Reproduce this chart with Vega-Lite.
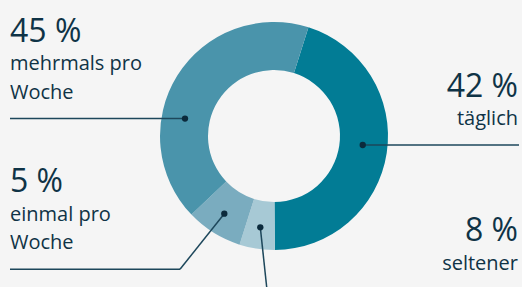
{
  "$schema": "https://vega.github.io/schema/vega-lite/v6.json",
  "width": 522,
  "height": 287,
  "padding": 0,
  "autosize": {"type": "none"},
  "background": "#f5f5f5",
  "config": {"view": {"stroke": null}},
  "data": {
    "values": [
      {"kategorie": "täglich", "bogen": 45, "prozent": "42 %", "text": "täglich", "nr": 1},
      {"kategorie": "seltener", "bogen": 5, "prozent": "8 %", "text": "seltener", "nr": 2},
      {"kategorie": "einmal pro Woche", "bogen": 8, "prozent": "5 %", "text": "einmal pro\nWoche", "nr": 3},
      {"kategorie": "mehrmals pro Woche", "bogen": 42, "prozent": "45 %", "text": "mehrmals pro\nWoche", "nr": 4}
    ]
  },
  "layer": [
    {
      "mark": {"type": "arc", "innerRadius": 66, "outerRadius": 114},
      "encoding": {
        "x": {"datum": 0, "type": "quantitative", "scale": {"domain": [-240.35, 217.54], "nice": false, "zero": false}, "axis": null},
        "y": {"datum": 0, "type": "quantitative", "scale": {"domain": [-132.46, 119.3], "nice": false, "zero": false}, "axis": null},
        "theta": {"field": "bogen", "type": "quantitative", "stack": true, "scale": {"range": [0.3072, 6.5904]}},
        "order": {"field": "nr", "type": "quantitative"},
        "color": {
          "field": "kategorie", "type": "nominal", "legend": null,
          "scale": {
            "domain": ["täglich", "seltener", "einmal pro Woche", "mehrmals pro Woche"],
            "range": ["#027c95", "#a7c9d5", "#7aacbf", "#4a94ab"]
          }
        }
      }
    },
    {
      "transform": [{"filter": "datum.kategorie === 'mehrmals pro Woche'"}],
      "layer": [
        {"mark": {"type": "rule", "color": "#1d475b", "strokeWidth": 1.5},
         "encoding": {"x": {"datum": -231.58, "type": "quantitative", "axis": null}, "x2": {"datum": -78.07}, "y": {"datum": 15.3, "type": "quantitative", "axis": null}}},
        {"mark": {"type": "point", "filled": true, "opacity": 1, "size": 40, "color": "#0b2a3c"},
         "encoding": {"x": {"datum": -78.07, "type": "quantitative", "axis": null}, "y": {"datum": 15.3, "type": "quantitative", "axis": null}}},
        {"mark": {"type": "text", "align": "left", "baseline": "alphabetic", "font": "Open Sans", "fontSize": 32, "color": "#0f3346"},
         "encoding": {"x": {"datum": -231.58, "type": "quantitative", "axis": null}, "y": {"datum": 82.46, "type": "quantitative", "axis": null}, "text": {"field": "prozent"}}},
        {"mark": {"type": "text", "align": "left", "baseline": "alphabetic", "font": "Open Sans", "fontSize": 20, "lineHeight": 29, "lineBreak": "\n", "color": "#0f3346"},
         "encoding": {"x": {"datum": -231.58, "type": "quantitative", "axis": null}, "y": {"datum": 57.89, "type": "quantitative", "axis": null}, "text": {"field": "text"}}}
      ]
    },
    {
      "transform": [{"filter": "datum.kategorie === 'täglich'"}],
      "layer": [
        {"mark": {"type": "rule", "color": "#1d475b", "strokeWidth": 1.5},
         "encoding": {"x": {"datum": 77.81, "type": "quantitative", "axis": null}, "x2": {"datum": 214.91}, "y": {"datum": -7.89, "type": "quantitative", "axis": null}}},
        {"mark": {"type": "point", "filled": true, "opacity": 1, "size": 40, "color": "#0b2a3c"},
         "encoding": {"x": {"datum": 77.81, "type": "quantitative", "axis": null}, "y": {"datum": -7.89, "type": "quantitative", "axis": null}}},
        {"mark": {"type": "text", "align": "right", "baseline": "alphabetic", "font": "Open Sans", "fontSize": 32, "color": "#0f3346"},
         "encoding": {"x": {"datum": 214.04, "type": "quantitative", "axis": null}, "y": {"datum": 34.47, "type": "quantitative", "axis": null}, "text": {"field": "prozent"}}},
        {"mark": {"type": "text", "align": "right", "baseline": "alphabetic", "font": "Open Sans", "fontSize": 20, "color": "#0f3346"},
         "encoding": {"x": {"datum": 214.04, "type": "quantitative", "axis": null}, "y": {"datum": 9.65, "type": "quantitative", "axis": null}, "text": {"field": "text"}}}
      ]
    },
    {
      "transform": [{"filter": "datum.kategorie === 'einmal pro Woche'"}],
      "layer": [
        {"mark": {"type": "rule", "color": "#1d475b", "strokeWidth": 1.5},
         "encoding": {"x": {"datum": -231.58, "type": "quantitative", "axis": null}, "x2": {"datum": -82.46}, "y": {"datum": -116.93, "type": "quantitative", "axis": null}}},
        {"mark": {"type": "rule", "color": "#1d475b", "strokeWidth": 1.5},
         "encoding": {"x": {"datum": -82.46, "type": "quantitative", "axis": null}, "x2": {"datum": -43.6}, "y": {"datum": -116.93, "type": "quantitative", "axis": null}, "y2": {"datum": -68.16}}},
        {"mark": {"type": "point", "filled": true, "opacity": 1, "size": 40, "color": "#0b2a3c"},
         "encoding": {"x": {"datum": -43.6, "type": "quantitative", "axis": null}, "y": {"datum": -68.16, "type": "quantitative", "axis": null}}},
        {"mark": {"type": "text", "align": "left", "baseline": "alphabetic", "font": "Open Sans", "fontSize": 32, "color": "#0f3346"},
         "encoding": {"x": {"datum": -231.58, "type": "quantitative", "axis": null}, "y": {"datum": -49.39, "type": "quantitative", "axis": null}, "text": {"field": "prozent"}}},
        {"mark": {"type": "text", "align": "left", "baseline": "alphabetic", "font": "Open Sans", "fontSize": 20, "lineHeight": 28.5, "lineBreak": "\n", "color": "#0f3346"},
         "encoding": {"x": {"datum": -231.58, "type": "quantitative", "axis": null}, "y": {"datum": -74.56, "type": "quantitative", "axis": null}, "text": {"field": "text"}}}
      ]
    },
    {
      "transform": [{"filter": "datum.kategorie === 'seltener'"}],
      "layer": [
        {"mark": {"type": "rule", "color": "#1d475b", "strokeWidth": 1.5},
         "encoding": {"x": {"datum": -12.02, "type": "quantitative", "axis": null}, "x2": {"datum": -6.14}, "y": {"datum": -80.09, "type": "quantitative", "axis": null}, "y2": {"datum": -135.09}}},
        {"mark": {"type": "point", "filled": true, "opacity": 1, "size": 40, "color": "#0b2a3c"},
         "encoding": {"x": {"datum": -12.02, "type": "quantitative", "axis": null}, "y": {"datum": -80.09, "type": "quantitative", "axis": null}}},
        {"mark": {"type": "text", "align": "right", "baseline": "alphabetic", "font": "Open Sans", "fontSize": 32, "color": "#0f3346"},
         "encoding": {"x": {"datum": 214.04, "type": "quantitative", "axis": null}, "y": {"datum": -91.84, "type": "quantitative", "axis": null}, "text": {"field": "prozent"}}},
        {"mark": {"type": "text", "align": "right", "baseline": "alphabetic", "font": "Open Sans", "fontSize": 20, "color": "#0f3346"},
         "encoding": {"x": {"datum": 214.04, "type": "quantitative", "axis": null}, "y": {"datum": -117.54, "type": "quantitative", "axis": null}, "text": {"field": "text"}}}
      ]
    }
  ]
}
